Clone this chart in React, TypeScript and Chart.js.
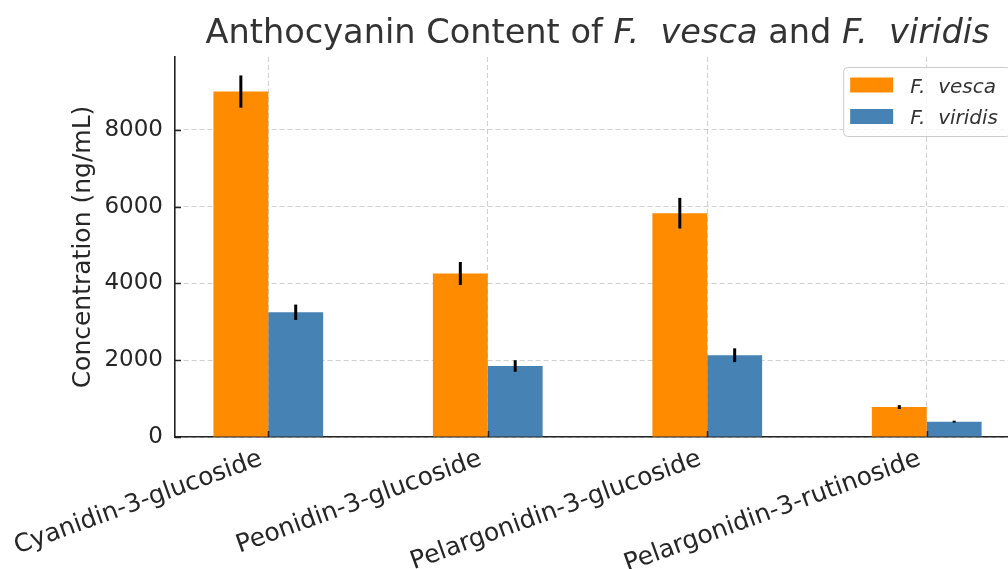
import { useEffect, useRef } from "react";
import { Chart, registerables } from "chart.js";

Chart.register(...registerables);

// Anthocyanin concentrations (ng/mL) with standard deviations
const categories = [
  "Cyanidin-3-glucoside",
  "Peonidin-3-glucoside",
  "Pelargonidin-3-glucoside",
  "Pelargonidin-3-rutinoside",
];
const vescaValues = [9000, 4260, 5830, 780];
const vescaErrors = [420, 300, 400, 50];
const viridisValues = [3250, 1850, 2130, 400];
const viridisErrors = [200, 150, 180, 25];
const yTickValues = [0, 2000, 4000, 6000, 8000];
const yMax = 9900;

const seriesLabels = ["F.  vesca", "F.  viridis"];
const seriesColors = ["#FF8C00", "#4682B4"];

const titleParts = [
  { text: "Anthocyanin Content of ", italic: false },
  { text: "F.  vesca", italic: true },
  { text: " and ", italic: false },
  { text: "F.  viridis", italic: true },
];

const FONT = "'DejaVu Sans', sans-serif";
const TEXT = "#262626";

// vertical error bars centred on each bar
const errorBarPlugin = {
  id: "errorBars",
  afterDatasetsDraw(chart: any) {
    const ctx = chart.ctx;
    const y = chart.scales.y;
    ctx.save();
    ctx.strokeStyle = "#000";
    ctx.lineWidth = 3;
    chart.data.datasets.forEach((ds: any, di: number) => {
      const meta = chart.getDatasetMeta(di);
      meta.data.forEach((bar: any, i: number) => {
        const v = ds.data[i].y;
        const e = ds.errors[i];
        ctx.beginPath();
        ctx.moveTo(bar.x, y.getPixelForValue(v - e));
        ctx.lineTo(bar.x, y.getPixelForValue(v + e));
        ctx.stroke();
      });
    });
    ctx.restore();
  },
};

// inward tick marks, title with italic species names, framed legend
const decorPlugin = {
  id: "decor",
  afterDraw(chart: any) {
    const ctx = chart.ctx;
    const area = chart.chartArea;
    const x = chart.scales.x;
    const y = chart.scales.y;

    ctx.save();
    ctx.strokeStyle = "#222";
    ctx.lineWidth = 1.5;
    y.ticks.forEach((t: any) => {
      const py = Math.round(y.getPixelForValue(t.value)) + 0.5;
      ctx.beginPath();
      ctx.moveTo(area.left, py);
      ctx.lineTo(area.left + 6, py);
      ctx.stroke();
    });
    x.ticks.forEach((t: any) => {
      const px = Math.round(x.getPixelForValue(t.value)) + 0.5;
      ctx.beginPath();
      ctx.moveTo(px, area.bottom);
      ctx.lineTo(px, area.bottom - 6);
      ctx.stroke();
    });
    ctx.restore();

    // title
    ctx.save();
    const size = 33.6;
    const fontFor = (italic: boolean) => `${italic ? "italic " : ""}${size}px ${FONT}`;
    let total = 0;
    const widths = titleParts.map((p) => {
      ctx.font = fontFor(p.italic);
      const w = ctx.measureText(p.text).width;
      total += w;
      return w;
    });
    let cx = (area.left + area.right) / 2 - total / 2;
    ctx.fillStyle = "#333";
    ctx.textBaseline = "alphabetic";
    ctx.textAlign = "left";
    titleParts.forEach((p, i) => {
      ctx.font = fontFor(p.italic);
      ctx.fillText(p.text, cx, 43);
      cx += widths[i];
    });
    ctx.restore();

    // legend
    ctx.save();
    ctx.font = `italic 20px ${FONT}`;
    const labels = chart.data.datasets.map((d: any) => d.label);
    const textW = Math.max(...labels.map((l: string) => ctx.measureText(l).width));
    const boxRight = area.right - 10;
    const boxW = 7 + 43 + 17 + textW + 12;
    const boxLeft = boxRight - boxW;
    const boxTop = area.top + 10;
    const boxH = 69;
    ctx.beginPath();
    ctx.roundRect(boxLeft + 0.5, boxTop + 0.5, boxW, boxH, 4);
    ctx.fillStyle = "rgba(255,255,255,0.8)";
    ctx.fill();
    ctx.strokeStyle = "#cccccc";
    ctx.lineWidth = 1;
    ctx.stroke();
    chart.data.datasets.forEach((d: any, i: number) => {
      const cy = boxTop + 18 + i * 31.5;
      ctx.fillStyle = d.backgroundColor;
      ctx.fillRect(boxLeft + 7, cy - 7.5, 43, 15);
      ctx.fillStyle = "#333";
      ctx.textBaseline = "alphabetic";
      ctx.fillText(d.label, boxLeft + 67, cy + 7.5);
    });
    ctx.restore();
  },
};

export default function App() {
  const ref = useRef<HTMLCanvasElement>(null);

  useEffect(() => {
    const canvas = ref.current;
    if (!canvas) return;
    const gridColor = "rgba(150,150,150,0.45)";
    const chart = new Chart(canvas, {
      type: "bar",
      data: {
        datasets: [
          {
            label: seriesLabels[0],
            data: vescaValues.map((v, i) => ({ x: i, y: v })),
            backgroundColor: seriesColors[0],
            borderWidth: 0,
            categoryPercentage: 0.5,
            barPercentage: 1,
            errors: vescaErrors,
          } as any,
          {
            label: seriesLabels[1],
            data: viridisValues.map((v, i) => ({ x: i, y: v })),
            backgroundColor: seriesColors[1],
            borderWidth: 0,
            categoryPercentage: 0.5,
            barPercentage: 1,
            errors: viridisErrors,
          } as any,
        ],
      },
      options: {
        responsive: false,
        animation: false,
        devicePixelRatio: 1,
        layout: { padding: { left: 0, top: 57, right: 10, bottom: 0 } },
        plugins: {
          legend: { display: false },
          title: { display: false },
          tooltip: { enabled: false },
        },
        scales: {
          x: {
            type: "linear",
            min: -0.425,
            max: categories.length - 1 + 0.425,
            offset: false,
            z: 1,
            grid: { display: true, offset: false, color: gridColor, lineWidth: 1, drawTicks: false },
            border: { display: true, color: "#222", width: 1.6, dash: [5, 3] },
            afterBuildTicks: (scale: any) => {
              scale.ticks = categories.map((_, i) => ({ value: i }));
            },
            afterFit: (scale: any) => {
              scale.height = 132;
              scale.paddingLeft = 0;
              scale.paddingRight = 0;
            },
            ticks: {
              autoSkip: false,
              minRotation: 20,
              maxRotation: 20,
              padding: 7,
              labelOffset: -7,
              color: TEXT,
              font: { family: FONT, size: 25 },
              callback: (v: any) => categories[v] ?? "",
            },
          } as any,
          y: {
            type: "linear",
            min: 0,
            max: yMax,
            z: 1,
            grid: { display: true, color: gridColor, lineWidth: 1, drawTicks: false },
            border: { display: true, color: "#222", width: 1.6, dash: [5, 3] },
            afterBuildTicks: (scale: any) => {
              scale.ticks = yTickValues.map((v) => ({ value: v }));
            },
            afterFit: (scale: any) => {
              scale.width = 175;
              scale.paddingTop = 0;
              scale.paddingBottom = 0;
            },
            ticks: {
              padding: 12,
              color: TEXT,
              font: { family: FONT, size: 23 },
              callback: (v: any) => String(v),
            },
            title: {
              display: true,
              text: "Concentration (ng/mL)",
              color: TEXT,
              font: { family: FONT, size: 25 },
              padding: { top: 68, bottom: 0 },
            },
          } as any,
        },
      },
      plugins: [errorBarPlugin, decorPlugin],
    });
    return () => chart.destroy();
  }, []);

  return (
    <div
      style={{
        position: "fixed",
        left: 0,
        top: 0,
        width: 1008,
        height: 569,
        overflow: "hidden",
        background: "#fff",
      }}
    >
      <canvas ref={ref} width={1030} height={569} style={{ display: "block", width: 1030, height: 569 }} />
    </div>
  );
}
